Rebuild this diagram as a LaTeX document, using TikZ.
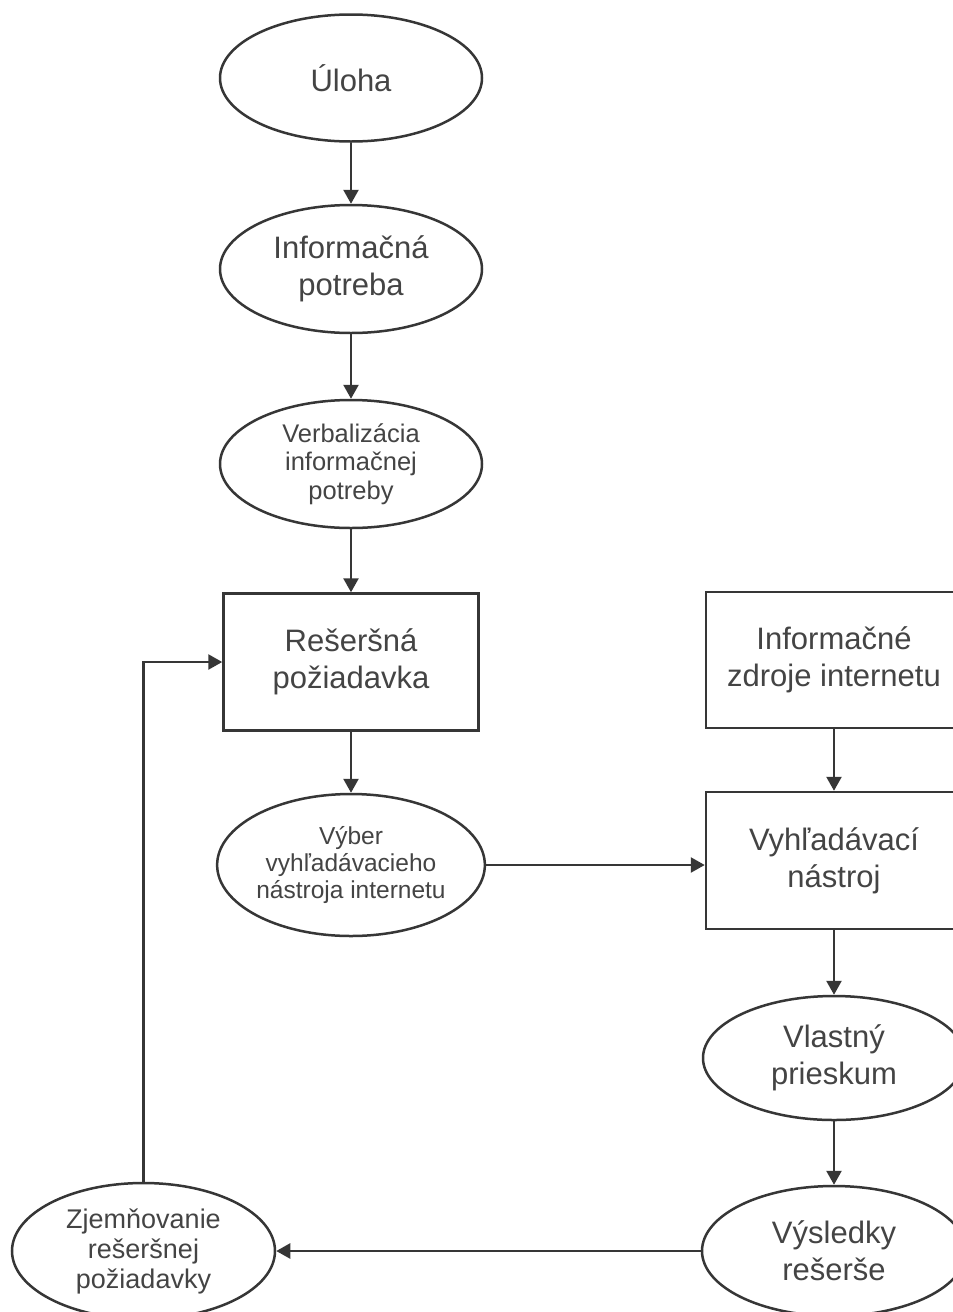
\documentclass[tikz,border=0pt]{standalone}
\usepackage{fontspec}
\setmainfont{Liberation Sans}
\usetikzlibrary{shapes.geometric,arrows.meta}
\definecolor{ln}{HTML}{363636}
\definecolor{tx}{HTML}{444444}
\begin{document}
\begin{tikzpicture}[x=1pt,y=-1pt,
  every node/.style={text=tx,align=center,inner sep=0pt,draw=ln,line width=2.5pt},
  big/.style={font=\fontsize{31}{37}\selectfont},
  small/.style={font=\fontsize{25.5}{28.5}\selectfont},
  ell/.style={ellipse,minimum width=262pt,minimum height=127pt},
  box/.style={rectangle,minimum width=255pt,minimum height=136pt},
  arr/.style={draw=ln,line width=2.5pt,-{Triangle[length=14pt,width=15pt]}},
  ln/.style={draw=ln,line width=2.5pt}]
\clip (0,0) rectangle (953,1312);
\useasboundingbox (0,0) rectangle (953,1312);
\fill[white] (0,0) rectangle (953,1312);

\node[ell,big] (uloha) at (351,78) {Úloha};
\node[ell,big,minimum height=128pt] (potreba) at (351,269) {Informačná\\potreba};
\node[ell,small,minimum height=128pt] (verb) at (351,464) {Verbalizácia\\informačnej\\potreby};
\node[box,big,minimum height=137pt] (resp) at (351,662) {Rešeršná\\požiadavka};
\node[ell,font=\fontsize{24.5}{27}\selectfont,minimum width=260pt,minimum height=142pt] (vyber) at (351,865) {Výber\\vyhľadávacieho\\nástroja internetu};

\node[box,big,minimum width=256pt] (zdroje) at (834,660) {Informačné\\zdroje internetu};
\node[box,big,minimum width=256pt,minimum height=137pt] (vyhl) at (834,860.5) {Vyhľadávací\\nástroj};
\node[ell,big,minimum height=124pt] (vlastny) at (834,1058) {Vlastný\\prieskum};
\node[ell,big,minimum width=264pt,minimum height=130pt] (vysl) at (834,1251) {Výsledky\\rešerše};
\node[ell,font=\fontsize{27}{30}\selectfont,minimum width=263pt,minimum height=136pt] (zjem) at (143.5,1251) {Zjemňovanie\\rešeršnej\\požiadavky};

\draw[arr] (uloha) -- (potreba);
\draw[arr] (potreba) -- (verb);
\draw[arr] (verb) -- (resp);
\draw[arr] (resp) -- (vyber);
\draw[arr] (vyber.east) -- (vyber.east -| vyhl.west);
\draw[arr] (zdroje) -- (vyhl);
\draw[arr] (vyhl) -- (vlastny);
\draw[arr] (vlastny) -- (vysl);
\draw[arr] (vysl.west) -- (zjem.east);
\draw[arr] (zjem.north) -- (zjem.north |- resp.west) -- (resp.west);
\end{tikzpicture}
\end{document}
